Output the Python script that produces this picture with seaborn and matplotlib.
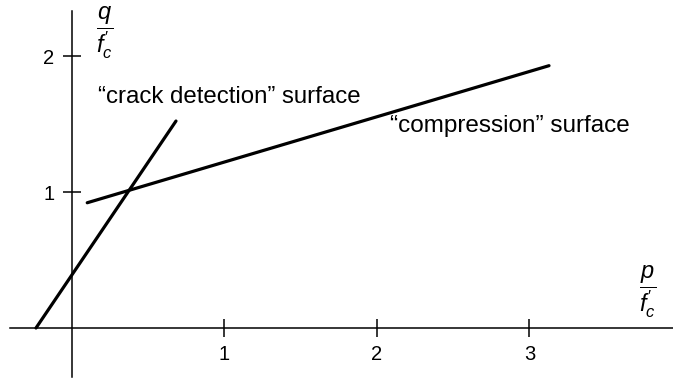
import matplotlib
matplotlib.use("Agg")
import matplotlib.pyplot as plt
import seaborn as sns
import pandas as pd

# Failure surfaces in the normalised p-q plane (end points of each segment)
crack_p = [-0.236, 0.682]
crack_q = [0.0, 1.522]
comp_p = [0.10, 3.128]
comp_q = [0.921, 1.929]

x_ticks = [1, 2, 3]
y_ticks = [1, 2]

sns.set_theme(style="white")
plt.rcParams["font.family"] = ["Liberation Sans", "DejaVu Sans"]
plt.rcParams["text.color"] = "black"
plt.rcParams["mathtext.fontset"] = "custom"
plt.rcParams["mathtext.it"] = "Liberation Sans:italic"
plt.rcParams["mathtext.rm"] = "Liberation Sans"

df = pd.concat([
    pd.DataFrame({"p": crack_p, "q": crack_q, "surface": "crack"}),
    pd.DataFrame({"p": comp_p, "q": comp_q, "surface": "compression"}),
])

fig = plt.figure(figsize=(6.73, 3.79), dpi=100)
ax = fig.add_axes([0, 0, 1, 1])

sns.lineplot(data=df, x="p", y="q", units="surface", estimator=None,
             color="black", linewidth=2.3, ax=ax, sort=False)

ax.set_xlim(-0.472, 3.941)
ax.set_ylim(-0.375, 2.412)

# Axes crossing at the origin
for side in ("top", "right"):
    ax.spines[side].set_visible(False)
ax.spines["left"].set_position(("data", 0))
ax.spines["bottom"].set_position(("data", 0))
ax.spines["left"].set_bounds(-0.36, 2.33)
ax.spines["bottom"].set_bounds(-0.407, 3.941)
for side in ("left", "bottom"):
    ax.spines[side].set_color("black")
    ax.spines[side].set_linewidth(1.1)

ax.set_xticks(x_ticks)
ax.set_yticks(y_ticks)
ax.set_xticklabels([str(t) for t in x_ticks])
ax.set_yticklabels([str(t) for t in y_ticks])
ax.tick_params(axis="both", direction="inout", length=13, width=1.1,
               color="black", labelsize=14.5, labelcolor="black",
               bottom=True, left=True)
ax.tick_params(axis="x", pad=6)
ax.tick_params(axis="y", pad=6)
ax.set_xlabel("")
ax.set_ylabel("")
ax.grid(False)

# Axis quantities as fractions
ax.text(0.216, 2.176, r"$\dfrac{q}{f^{\prime}_{c}}$", fontsize=17,
        ha="center", va="center", color="black")
ax.text(3.777, 0.265, r"$\dfrac{p}{f^{\prime}_{c}}$", fontsize=17,
        ha="center", va="center", color="black")

# Surface labels
ax.text(0.17, 1.654, "\u201ccrack detection\u201d surface", fontsize=17.3,
        ha="left", va="baseline", color="black")
ax.text(2.085, 1.443, "\u201ccompression\u201d surface", fontsize=17.5,
        ha="left", va="baseline", color="black")

fig.savefig("out.png", dpi=100)
